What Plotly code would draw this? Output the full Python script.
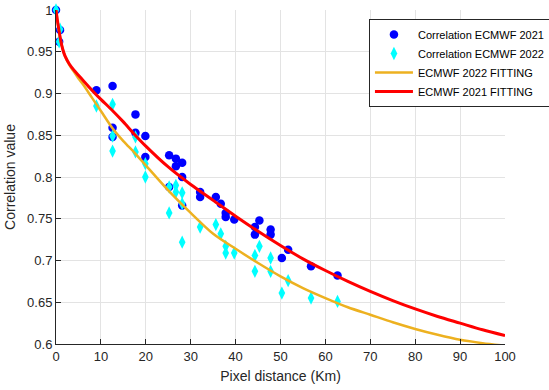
import plotly.graph_objects as go

# ---- data ----
blue_x = [0, 0.7, 0.9, 9.0, 12.6, 12.6, 12.6, 17.7, 17.7, 19.9, 19.9, 25.2, 25.2, 26.7, 26.7,
          28.1, 28.1, 28.1, 32.1, 32.1, 35.6, 36.7, 37.8, 37.8, 39.7, 44.3, 44.3, 45.3, 47.8,
          47.8, 50.3, 51.7, 56.8, 62.7]
blue_y = [1.000, 0.962, 0.976, 0.904, 0.909, 0.859, 0.848, 0.875, 0.853, 0.849, 0.824, 0.826,
          0.788, 0.822, 0.813, 0.817, 0.800, 0.766, 0.782, 0.776, 0.776, 0.768, 0.757, 0.752,
          0.749, 0.740, 0.731, 0.748, 0.737, 0.731, 0.703, 0.713, 0.693, 0.682]

cyan_x = [0, 0.7, 0.9, 9.0, 12.6, 12.6, 12.6, 17.7, 17.7, 19.9, 19.9, 25.2, 25.2, 26.7, 26.7,
          28.1, 28.1, 28.1, 32.1, 35.6, 36.7, 37.8, 37.8, 39.7, 44.3, 44.3, 45.3, 47.8, 47.8,
          50.3, 51.7, 56.8, 62.7]
cyan_y = [1.000, 0.962, 0.977, 0.885, 0.887, 0.849, 0.831, 0.848, 0.830, 0.816, 0.800, 0.788,
          0.757, 0.790, 0.782, 0.781, 0.768, 0.722, 0.740, 0.743, 0.732, 0.717, 0.709, 0.709,
          0.706, 0.687, 0.717, 0.703, 0.687, 0.661, 0.676, 0.655, 0.651]

fit_x = [0, 0.25, 0.5, 1, 1.5, 2, 3, 4, 5, 6, 8, 10, 12.5, 15, 17.5, 20, 25, 30, 35, 40, 45,
         50, 55, 60, 65, 70, 75, 80, 85, 90, 95, 100]
fit_2021 = [1.000, 0.990, 0.981, 0.965, 0.953, 0.945, 0.935, 0.928, 0.922, 0.916, 0.904, 0.893,
            0.880, 0.866, 0.851, 0.837, 0.812, 0.791, 0.772, 0.753, 0.735, 0.718, 0.702, 0.688,
            0.675, 0.663, 0.652, 0.642, 0.633, 0.625, 0.617, 0.610]
fit_2022 = [1.000, 0.990, 0.981, 0.964, 0.953, 0.945, 0.934, 0.926, 0.918, 0.911, 0.895, 0.879,
            0.859, 0.843, 0.829, 0.814, 0.784, 0.757, 0.732, 0.714, 0.697, 0.681, 0.667, 0.655,
            0.644, 0.635, 0.626, 0.618, 0.611, 0.605, 0.601, 0.598]

x_ticks = [0, 10, 20, 30, 40, 50, 60, 70, 80, 90, 100]
y_ticks = [0.6, 0.65, 0.7, 0.75, 0.8, 0.85, 0.9, 0.95, 1.0]
y_tick_text = ["0.6", "0.65", "0.7", "0.75", "0.8", "0.85", "0.9", "0.95", "1"]

FONT = "Liberation Sans, Arial, sans-serif"
AX = "#262626"

fig = go.Figure()
fig.add_trace(go.Scatter(x=blue_x, y=blue_y, mode="markers", name="Correlation ECMWF 2021",
                         marker=dict(symbol="circle", size=8.5, color="#0000FF", line=dict(width=0)),
                         cliponaxis=False))
fig.add_trace(go.Scatter(x=cyan_x, y=cyan_y, mode="markers", name="Correlation ECMWF 2022",
                         marker=dict(symbol="diamond-tall", size=9.5, color="#00FFFF", line=dict(width=0)),
                         cliponaxis=False))
fig.add_trace(go.Scatter(x=fit_x, y=fit_2022, mode="lines", name="ECMWF 2022 FITTING",
                         line=dict(color="#EDB120", width=2.5, shape="spline", smoothing=0.8)))
fig.add_trace(go.Scatter(x=fit_x, y=fit_2021, mode="lines", name="ECMWF 2021 FITTING",
                         line=dict(color="#FF0000", width=3, shape="spline", smoothing=0.8)))

fig.update_layout(
    width=549, height=390,
    margin=dict(l=56, r=44, t=10, b=46, autoexpand=False),
    paper_bgcolor="white", plot_bgcolor="white",
    font=dict(family=FONT, size=13, color=AX),
    showlegend=True,
    legend=dict(x=0.697, y=0.973, xanchor="left", yanchor="top",
                bgcolor="white", bordercolor=AX, borderwidth=1,
                font=dict(family=FONT, size=11, color="#000000"),
                itemwidth=38, tracegroupgap=0),
)
fig.update_xaxes(range=[0, 100], tickvals=x_ticks, ticks="inside", ticklen=5, tickcolor=AX,
                 showline=True, linecolor=AX, linewidth=1, mirror=False,
                 showgrid=True, gridcolor="#e3e3e3", gridwidth=1, zeroline=False,
                 tickfont=dict(size=13, color=AX),
                 title=dict(text="Pixel distance (Km)", font=dict(size=14, color=AX), standoff=8))
fig.update_yaxes(range=[0.6, 1.0], tickvals=y_ticks, ticktext=y_tick_text, ticks="inside",
                 ticklen=5, tickcolor=AX, showline=True, linecolor=AX, linewidth=1, mirror=False,
                 showgrid=True, gridcolor="#e3e3e3", gridwidth=1, zeroline=False,
                 tickfont=dict(size=13, color=AX),
                 title=dict(text="Correlation value", font=dict(size=14, color=AX), standoff=8))

fig.write_html("out.html")
